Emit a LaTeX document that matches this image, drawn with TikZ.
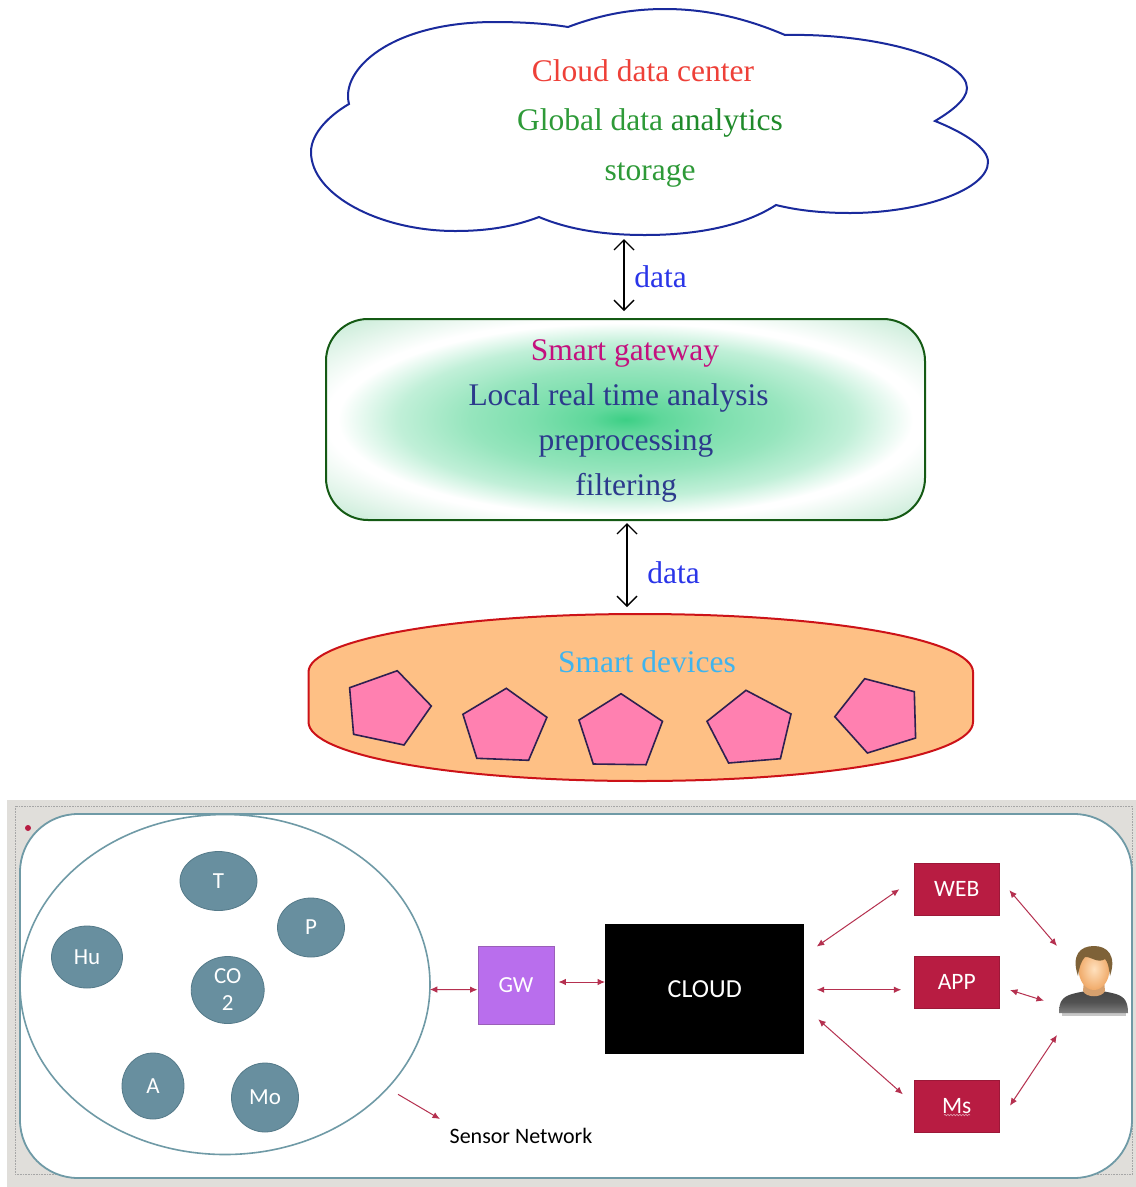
\documentclass[tikz,border=0pt]{standalone}
\usepackage{fontspec}
\usetikzlibrary{arrows.meta,shapes.geometric,decorations.pathmorphing}
\setmainfont{Liberation Serif}
\newfontfamily\gillish{Carlito}
\definecolor{cloudline}{HTML}{1A2A9C}
\definecolor{cloudred}{HTML}{EE4038}
\definecolor{cloudgreen}{HTML}{2E9A38}
\definecolor{clouddark}{HTML}{1F8A2A}
\definecolor{datablue}{HTML}{2A35E8}
\definecolor{gwmagenta}{HTML}{C4107E}
\definecolor{gwnavy}{HTML}{2C3A8C}
\definecolor{gwline}{HTML}{145A14}
\definecolor{gwcore}{HTML}{3CCF85}
\definecolor{gwcorner}{HTML}{C4EAD4}
\definecolor{devfill}{HTML}{FEC085}
\definecolor{devline}{HTML}{CC1218}
\definecolor{devtext}{HTML}{3FB4EE}
\definecolor{penfill}{HTML}{FF80B0}
\definecolor{penline}{HTML}{2E2050}
\definecolor{panelgray}{HTML}{E0DEDA}
\definecolor{teal}{HTML}{6F9AA6}
\definecolor{sensorfill}{HTML}{688F9F}
\definecolor{sensorline}{HTML}{557A89}
\definecolor{crimson}{HTML}{B81C42}
\definecolor{arrowred}{HTML}{B5304F}
\definecolor{gwviolet}{HTML}{B96EED}
\definecolor{gwvioletline}{HTML}{9A5FB8}
\definecolor{neck}{HTML}{D6A06E}
\definecolor{facein}{HTML}{FFE1BE}
\definecolor{faceout}{HTML}{F0AA69}
\definecolor{hair}{HTML}{7E6238}
\pgfdeclareradialshading{gwglow}{\pgfpoint{0bp}{0bp}}{%
  color(0bp)=(gwcore);color(3bp)=(gwcore!82!white);color(8bp)=(gwcore!66!white);color(13bp)=(gwcore!54!white);color(19bp)=(gwcore!32!white);color(24bp)=(white);color(25bp)=(white);color(35bp)=(gwcorner);color(50bp)=(gwcorner)}
\tikzset{
  dataarrow/.style={draw=black,line width=1.4pt,{Straight Barb[length=10pt,width=20pt]}-{Straight Barb[length=10pt,width=20pt]}},
  toptext/.style={inner sep=0pt,anchor=base,font=\fontsize{31.5}{31.5}\selectfont},
  pentagonshape/.style={draw=penline,fill=penfill,line width=1.6pt,line join=miter},
  sensor/.style={ellipse,draw=sensorline,fill=sensorfill,line width=.8pt,inner sep=0pt,text=white,align=center,font=\gillish\fontsize{23}{27}\selectfont},
  redbox/.style={rectangle,draw=crimson!85!black,fill=crimson,line width=.8pt,inner sep=0pt,text=white,minimum width=84.5pt,font=\gillish\fontsize{23.5}{23.5}\selectfont},
  link/.style={draw=arrowred,line width=1pt,{Latex[length=7.5pt,width=6.5pt]}-{Latex[length=7.5pt,width=6.5pt]}},
}
\begin{document}
\begin{tikzpicture}[x=1pt,y=-1pt]
\useasboundingbox (0,0) rectangle (1136,1187);
% cloud
\draw[cloudline,line width=2pt,fill=white]
  (349,104) .. controls (340,70) and (390,22) .. (495,22)
  .. controls (525,22) and (550,24) .. (568,27)
  .. controls (600,15) and (630,9) .. (665,9)
  .. controls (710,9) and (750,20) .. (785,35)
  .. controls (880,33) and (967,60) .. (967,88)
  .. controls (967,100) and (950,112) .. (935,121)
  .. controls (965,133) and (988,148) .. (988,162)
  .. controls (988,190) and (920,213) .. (850,213)
  .. controls (825,213) and (800,211) .. (776,205)
  .. controls (745,225) and (700,235) .. (645,235)
  .. controls (605,235) and (570,230) .. (539,217)
  .. controls (515,226) and (490,231) .. (455,231)
  .. controls (380,231) and (311,195) .. (311,152)
  .. controls (311,133) and (330,115) .. (349,104) -- cycle;
\coordinate (cloudbottom) at (624,239);
\node[toptext,text=cloudred] (t1) at (643,81) {Cloud data center};
\node[toptext,text=cloudgreen] (t2) at (650,130) {Global data \textcolor{clouddark}{analytics}};
\node[toptext,text=cloudgreen] (t3) at (650,180) {storage};
% gateway
\node[rectangle,rounded corners=42pt,draw=gwline,line width=2pt,shading=gwglow,minimum width=599pt,minimum height=201pt,inner sep=0pt] (gate) at (625.5,419.5) {};
\node[toptext,text=gwmagenta] (g1) at (625,360) {Smart gateway};
\node[toptext,text=gwnavy] (g2) at (618.5,405) {Local real time analysis};
\node[toptext,text=gwnavy] (g3) at (626,450) {preprocessing};
\node[toptext,text=gwnavy] (g4) at (626,495) {filtering};
\draw[dataarrow] (cloudbottom) -- ([xshift=-1.5pt,yshift=7pt]gate.north);
\node[toptext,text=datablue] (d1) at (660.5,287.5) {data};
% devices
\path[draw=devline,fill=devfill,line width=2pt]
  (308.5,672) .. controls (308.5,640) and (450,614) .. (640,614)
  .. controls (830,614) and (973,640) .. (973,672)
  -- (973,722) .. controls (973,755) and (830,781) .. (640,781)
  .. controls (450,781) and (308.5,755) .. (308.5,722) -- cycle;
\coordinate (devtop) at (627,607);
\node[toptext,text=devtext] (s1) at (647,672) {Smart devices};
\draw[dataarrow] ([xshift=1.5pt,yshift=-2pt]gate.south) -- (devtop);
\node[toptext,text=datablue] (d2) at (673.5,583.5) {data};
\draw[pentagonshape] (397.3,670.7) -- (431.3,706) -- (404,745) -- (353.6,734.3) -- (349.6,687.7) -- cycle;
\draw[pentagonshape] (506.3,688.3) -- (546.9,717.3) -- (528.6,760.3) -- (476.8,758.3) -- (462.9,714.3) -- cycle;
\draw[pentagonshape] (621,693.7) -- (662.5,721.3) -- (646,764.7) -- (593.3,764) -- (579,720) -- cycle;
\draw[pentagonshape] (746,690.3) -- (791,714) -- (780.4,758.7) -- (728.6,763) -- (707,721.3) -- cycle;
\draw[pentagonshape] (864.7,678.7) -- (914.3,691.7) -- (915.6,738) -- (867.4,753) -- (834.8,716.7) -- cycle;
% lower panel
\fill[panelgray] (7,800) rectangle (1136,1187);
\draw[gray!70,densely dotted,line width=.6pt] (15,806) rectangle (1132.5,1174);
\draw[teal,fill=white,line width=1.8pt,rounded corners=58pt] (20,814) rectangle (1132,1178);
\fill[crimson] (28,828) circle (3pt);
\node[ellipse,draw=teal,line width=1.6pt,fill=white,minimum width=410pt,minimum height=340pt,inner sep=0pt] (net) at (225,984.5) {};
\node[sensor,minimum width=77pt,minimum height=59pt] (T) at (218.5,881) {T};
\node[sensor,minimum width=67pt,minimum height=59pt] (P) at (311,927.5) {P};
\node[sensor,minimum width=71pt,minimum height=62pt] (Hu) at (87,957) {Hu};
\node[sensor,minimum width=73pt,minimum height=67pt] (CO) at (227.7,990) {CO\\2};
\node[sensor,minimum width=62pt,minimum height=66pt] (A) at (153,1086) {A};
\node[sensor,minimum width=67pt,minimum height=69pt] (Mo) at (265,1097.5) {Mo};
\node[rectangle,draw=gwvioletline,fill=gwviolet,inner sep=0pt,minimum width=76.5pt,minimum height=78pt,text=white,font=\gillish\fontsize{23}{23}\selectfont] (gw) at (516,984.7) {GW};
\node[rectangle,fill=black,inner sep=0pt,minimum width=199pt,minimum height=130.3pt,text=white,font=\gillish\fontsize{26}{26}\selectfont] (cbox) at (704.8,989.2) {CLOUD};
\node[redbox,minimum height=52pt] (web) at (956.7,889.2) {WEB};
\node[redbox,minimum height=51.5pt] (app) at (956.7,982.3) {APP};
\node[redbox,minimum height=52pt] (ms) at (956.7,1106) {Ms};
\draw[crimson!45!white,line width=.7pt,decorate,decoration={snake,amplitude=.7pt,segment length=3pt}] (944,1115) -- (970,1115);
\node[inner sep=0pt,text=black,font=\gillish\fontsize{22}{22}\selectfont] (sn) at (521,1136) {Sensor Network};
\coordinate (snstart) at (398,1094.3);
\draw[draw=arrowred,line width=1pt,-{Latex[length=7.5pt,width=6.5pt]}] (snstart) -- ([shift={(-81,-17)}]sn.center);
% user
\fill[black!22] (1062,1012) rectangle (1126,1016);
\shade[top color=black!72,bottom color=black!50,middle color=black!68]
  (1059,1013) .. controls (1059,1002) and (1062,997) .. (1072,994)
  .. controls (1080,992) and (1084,991) .. (1094,991)
  .. controls (1104,991) and (1108,992) .. (1116,994)
  .. controls (1125,997) and (1128,1002) .. (1128,1013) -- cycle;
\fill[neck] (1084,980) -- (1104,980) -- (1105,991) .. controls (1102,998) and (1086,998) .. (1083,991) -- cycle;
\shade[inner color=facein,outer color=faceout] (1094,969) ellipse (15.5pt and 21pt);
\fill[hair]
  (1078,976) .. controls (1071,955) and (1080,946) .. (1094,946)
  .. controls (1107,946) and (1117,955) .. (1110,976)
  .. controls (1109,968) and (1108,962) .. (1105,959)
  .. controls (1098,964) and (1090,956) .. (1085,957)
  .. controls (1081,961) and (1079,968) .. (1078,976) -- cycle;
% links
\draw[link] ([xshift=-1pt,yshift=-5pt]net.east) -- ([yshift=-5pt]gw.west);
\draw[link] ([shift={(4,-2.7)}]gw.east) -- ([yshift=7.2pt]cbox.west);
\draw[link] ([shift={(12.2,22.7)}]cbox.north east) -- ([xshift=-14.7pt]web.west);
\draw[link] ([xshift=12.2pt,yshift=-.5pt]cbox.east) -- ([shift={(-12.7,7.4)}]app.west);
\draw[link] ([shift={(13.7,-35.3)}]cbox.south east) -- ([shift={(-11.2,-11.7)}]ms.west);
\coordinate (userwest) at (1044,1000.7);
\coordinate (userup) at (1057,946);
\coordinate (userdown) at (1057,1035);
\draw[link] ([xshift=10pt,yshift=-1pt]web.east) -- (userup);
\draw[link] ([shift={(10.6,7.7)}]app.east) -- (userwest);
\draw[link] ([shift={(10.6,-.3)}]ms.east) -- (userdown);
\end{tikzpicture}
\end{document}
